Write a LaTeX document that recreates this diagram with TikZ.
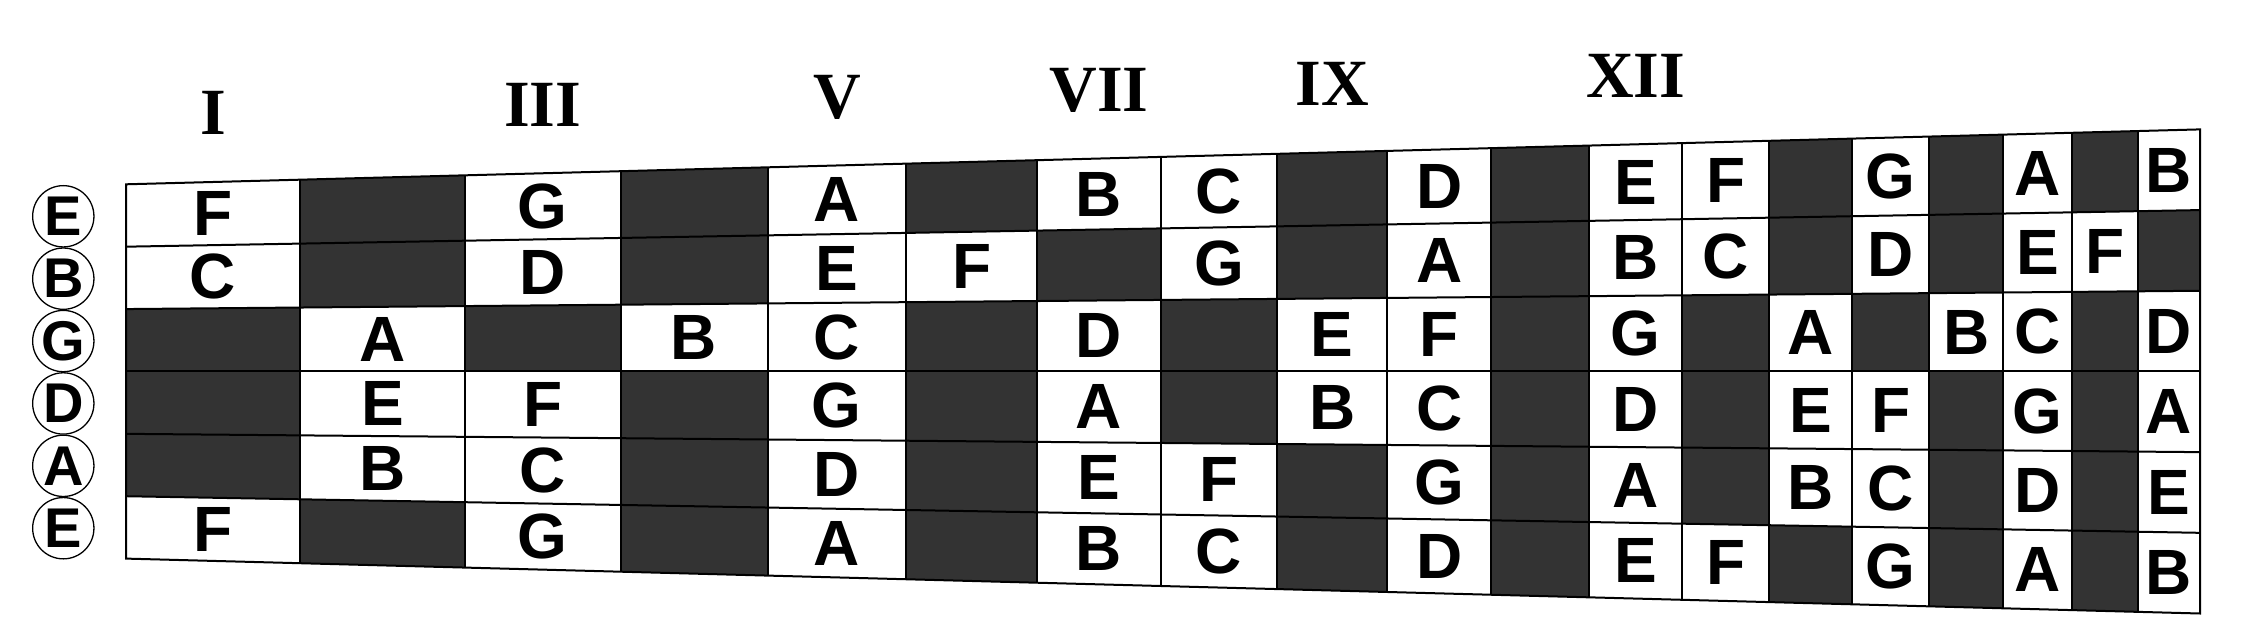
\documentclass[tikz,border=0pt]{standalone}
\usepackage{fontspec}
\setmainfont{Liberation Serif}
\setsansfont{Liberation Sans}
\definecolor{fretdark}{HTML}{333333}
\def\rowE{F,-,G,-,A,-,B,C,-,D,-,E,F,-,G,-,A,-,B}
\def\rowB{C,-,D,-,E,F,-,G,-,A,-,B,C,-,D,-,E,F,-}
\def\rowG{-,A,-,B,C,-,D,-,E,F,-,G,-,A,-,B,C,-,D}
\def\rowD{-,E,F,-,G,-,A,-,B,C,-,D,-,E,F,-,G,-,A}
\def\rowA{-,B,C,-,D,-,E,F,-,G,-,A,-,B,C,-,D,-,E}
\begin{document}
\begin{tikzpicture}[x=1bp,y=-1bp,
  declare function={
    yt(\x)=184.3-0.026471*(\x-126);
    yb(\x)=558.6+0.026471*(\x-126);
    yr(\x,\j)=yt(\x)+\j*(yb(\x)-yt(\x))/6;
    fb(\k)=126+3112.6*(1-pow(2,-\k/12));
  },
  gridline/.style={line width=2bp, line join=miter},
  darkcell/.style={fill=fretdark},
  notelabel/.style={font=\sffamily\bfseries\fontsize{64bp}{64bp}\selectfont, inner sep=0pt},
  stringlabel/.style={draw, circle, line width=1.3bp, minimum size=61.3bp, inner sep=0pt,
    font=\sffamily\bfseries\fontsize{56bp}{56bp}\selectfont},
  fretnum/.style={font=\rmfamily\bfseries\fontsize{66bp}{66bp}\selectfont, anchor=base, inner sep=0pt}]

\fill[white] (0,0) rectangle (2246,638);
\useasboundingbox (0,0) rectangle (2246,638);

% cells and note letters
\foreach \j in {1,...,6} {
  \ifcase\j\or\let\notes\rowE\or\let\notes\rowB\or\let\notes\rowG
    \or\let\notes\rowD\or\let\notes\rowA\or\let\notes\rowE\fi
  \foreach \n [count=\k] in \notes {
    \pgfmathsetmacro\bl{fb(\k-1)}
    \pgfmathsetmacro\br{fb(\k)}
    \pgfmathsetmacro\xc{(\bl+\br)/2}
    \ifnum\strcmp{\n}{-}=0
      \fill[darkcell] (\bl,{yr(\bl,\j-1)}) -- (\br,{yr(\br,\j-1)})
        -- (\br,{yr(\br,\j)}) -- (\bl,{yr(\bl,\j)}) -- cycle;
    \else
      \node[notelabel] (n\j-\k) at (\xc,{yr(\xc,\j-0.5)}) {\n};
    \fi
  }
}

% string lines
\foreach \j in {1,...,5}
  \draw[gridline] (126,{yr(126,\j)}) -- (2200,{yr(2200,\j)});
% fret lines
\foreach \k in {1,...,18}
  \draw[gridline] ({fb(\k)},{yt(fb(\k))}) -- ({fb(\k)},{yb(fb(\k))});
% outer frame
\draw[gridline] (126,184.3) -- (2200,129.4) -- (2200,613.5) -- (126,558.6) -- cycle;

% fret numbers
\foreach \k/\t in {1/I,3/III,5/V,7/VII,9/IX,12/XII} {
  \pgfmathsetmacro\xc{(fb(\k-1)+fb(\k))/2}
  \node[fretnum] (f\k) at (\xc,{yt(\xc)-47}) {\t};
}

% open string labels
\foreach \j/\t in {1/E,2/B,3/G,4/D,5/A,6/E}
  \node[stringlabel] (s\j) at (63.3,{yr(126,\j-0.5)+0.8}) {\t};
\end{tikzpicture}
\end{document}
